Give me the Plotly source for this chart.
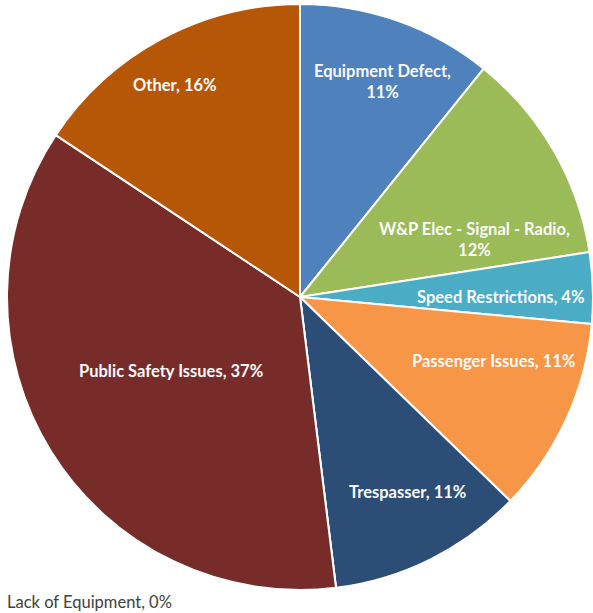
import math
import plotly.graph_objects as go

# Delay causes, in clockwise order from 12 o'clock
causes = [
    "Equipment Defect",
    "W&P Elec - Signal - Radio",
    "Speed Restrictions",
    "Passenger Issues",
    "Trespasser",
    "Lack of Equipment",
    "Public Safety Issues",
    "Other",
]
shares = [11, 12, 4, 11, 11, 0, 37, 16]
colors = ["#4F81BD", "#9BBB59", "#4BACC6", "#F79646", "#2C4D75", "#C0504D", "#772C2A", "#B65708"]

# label placement: angular nudge (deg) from the wedge's mid-angle and radial
# distance as a fraction of the pie radius
label_nudge = [1.5, 11.8, 1.8, -6.3, -2.4, 0.0, 1.7, -2.3]
label_radius = [0.787, 0.628, 0.685, 0.697, 0.759, 0.0, 0.507, 0.842]
wrapped = {"Equipment Defect", "W&P Elec - Signal - Radio"}

W, H = 593, 613
dom_x = [7 / W, 1.0]
dom_y = [23 / H, 609 / H]

fig = go.Figure(
    go.Pie(
        labels=causes,
        values=shares,
        textinfo="none",
        sort=False,
        direction="clockwise",
        rotation=0,
        marker=dict(colors=colors, line=dict(color="#FFFFFF", width=2)),
        hoverinfo="label+percent",
        showlegend=False,
        domain=dict(x=dom_x, y=dom_y),
    )
)

# pie geometry in pixels
cx = (dom_x[0] + dom_x[1]) / 2 * W
cy = (1 - (dom_y[0] + dom_y[1]) / 2) * H
radius = min((dom_x[1] - dom_x[0]) * W, (dom_y[1] - dom_y[0]) * H) / 2

total = sum(shares)
start = 0.0
label_font = dict(family="Lato", size=16.5, color="#FAFAFA", weight="bold")
for name, v, nudge, rf in zip(causes, shares, label_nudge, label_radius):
    mid = (start + v / 2) / total * 360 + nudge
    start += v
    if v == 0:
        # zero-share wedge has no visible area: its label sits below the pie
        fig.add_annotation(
            text=f"{name}, {v}%",
            xref="paper", yref="paper",
            x=5 / W, y=-0.002,
            xanchor="left", yanchor="bottom",
            showarrow=False,
            font=dict(family="Lato", size=16.5, color="#404040"),
        )
        continue
    sep = ",<br>" if name in wrapped else ", "
    px = cx + rf * radius * math.sin(math.radians(mid))
    py = cy - rf * radius * math.cos(math.radians(mid))
    fig.add_annotation(
        text=f"{name}{sep}{v}%",
        xref="paper", yref="paper",
        x=px / W, y=1 - py / H,
        xanchor="center", yanchor="middle",
        showarrow=False,
        font=label_font,
    )

fig.update_layout(
    width=W,
    height=H,
    margin=dict(l=0, r=0, t=0, b=0),
    paper_bgcolor="#FFFFFF",
    plot_bgcolor="#FFFFFF",
)

fig.write_html("out.html")
